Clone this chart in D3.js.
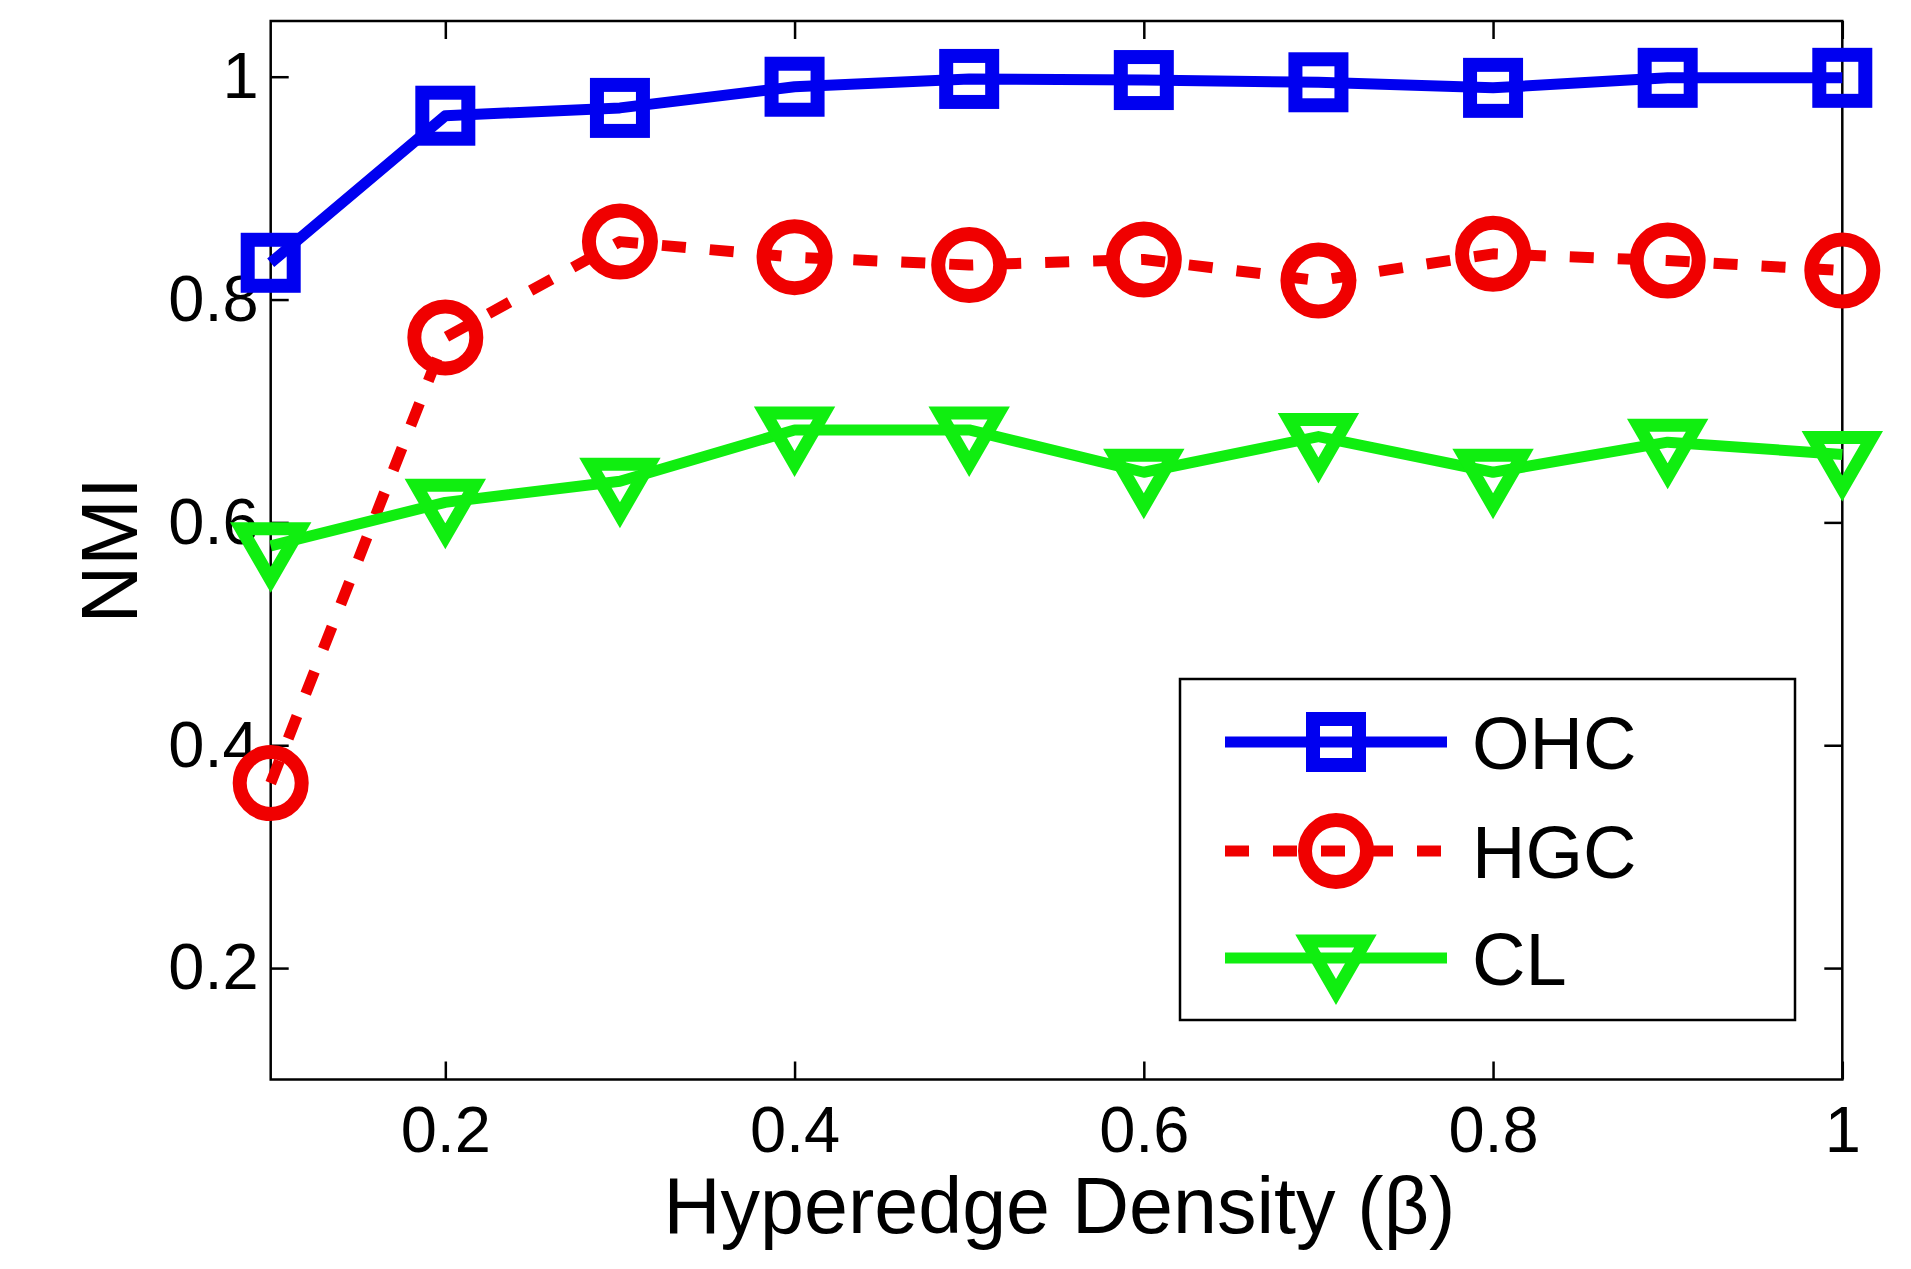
<!DOCTYPE html>
<html>
<head>
<meta charset="utf-8">
<script src="https://cdn.jsdelivr.net/npm/d3@7"></script>
<style>
  html, body { margin: 0; padding: 0; background: #fff; }
  svg { display: block; }
  text { font-family: "Liberation Sans", Arial, Helvetica, sans-serif; fill: #000; }
</style>
</head>
<body>
<svg id="chart" width="1911" height="1269"></svg>
<script>
// ---- data ----
const betas = [0.1, 0.2, 0.3, 0.4, 0.5, 0.6, 0.7, 0.8, 0.9, 1.0];
const ohc   = [0.833, 0.965, 0.972, 0.991, 0.998, 0.997, 0.995, 0.990, 0.999, 0.999];
const hgc   = [0.366, 0.766, 0.852, 0.838, 0.831, 0.836, 0.817, 0.841, 0.835, 0.826];
const cl    = [0.579, 0.618, 0.637, 0.683, 0.683, 0.645, 0.677, 0.645, 0.672, 0.661];
const seriesNames = ["OHC", "HGC", "CL"];
const xTicks = [0.2, 0.4, 0.6, 0.8, 1];
const yTicks = [0.2, 0.4, 0.6, 0.8, 1];
const xLabel = "Hyperedge Density (\u03B2)";
const yLabel = "NMI";

// ---- styles ----
const styles = [
  { values: ohc, color: "#0000f0", dash: null,    marker: "square" },
  { values: hgc, color: "#f00000", dash: "24,24", marker: "circle" },
  { values: cl,  color: "#10ee10", dash: null,    marker: "triangle" }
];

const svg = d3.select("#chart");
const L = 270.7, R = 1842.3, T = 21, B = 1079.5;
const x = d3.scaleLinear().domain([0.1, 1]).range([L, R]);
const y = d3.scaleLinear().domain([0.1, 1.05]).range([B, T]);

const tickFmt = d3.format("");
const tickLen = 18;
const tickFont = 65;

// bottom axis
const gB = svg.append("g").attr("transform", `translate(0,${B})`)
  .call(d3.axisBottom(x).tickValues(xTicks).tickFormat(tickFmt)
    .tickSizeInner(-tickLen).tickSizeOuter(0).tickPadding(26));
// left axis
const gL = svg.append("g").attr("transform", `translate(${L},0)`)
  .call(d3.axisLeft(y).tickValues(yTicks).tickFormat(tickFmt)
    .tickSizeInner(-tickLen).tickSizeOuter(0).tickPadding(12));
// top axis (ticks only)
const gT = svg.append("g").attr("transform", `translate(0,${T})`)
  .call(d3.axisTop(x).tickValues(xTicks).tickFormat("")
    .tickSizeInner(-tickLen).tickSizeOuter(0));
// right axis (ticks only)
const gR = svg.append("g").attr("transform", `translate(${R},0)`)
  .call(d3.axisRight(y).tickValues(yTicks).tickFormat("")
    .tickSizeInner(-tickLen).tickSizeOuter(0));

[gB, gL, gT, gR].forEach(g => {
  g.select(".domain").remove();
  g.selectAll(".tick line").attr("stroke", "#000").attr("stroke-width", 2.5);
  g.selectAll(".tick text").style("font-size", tickFont + "px")
    .style("font-family", '"Liberation Sans", Arial, sans-serif').attr("fill", "#000");
});

// frame
svg.append("rect").attr("x", L).attr("y", T).attr("width", R - L).attr("height", B - T)
  .attr("fill", "none").attr("stroke", "#000").attr("stroke-width", 2.5);

// axis titles
svg.append("text").attr("x", (L + R) / 2 + 3).attr("y", 1233)
  .attr("text-anchor", "middle").style("font-size", "79px").text(xLabel);
svg.append("text").attr("transform", `translate(137,${(T + B) / 2}) rotate(-90)`)
  .attr("text-anchor", "middle").style("font-size", "80px").text(yLabel);

// marker drawing
function drawMarker(g, type, cx, cy, color) {
  if (type === "square") {
    const s = 46;
    g.append("rect").attr("x", cx - s / 2).attr("y", cy - s / 2).attr("width", s).attr("height", s)
      .attr("fill", "none").attr("stroke", color).attr("stroke-width", 14);
  } else if (type === "circle") {
    g.append("circle").attr("cx", cx).attr("cy", cy).attr("r", 31)
      .attr("fill", "none").attr("stroke", color).attr("stroke-width", 14);
  } else {
    const r = 34;
    const pts = [[cx, cy + r], [cx - 0.866 * r, cy - r / 2], [cx + 0.866 * r, cy - r / 2]];
    g.append("path").attr("d", "M" + pts.map(p => p.join(",")).join("L") + "Z")
      .attr("fill", "none").attr("stroke", color).attr("stroke-width", 13)
      .attr("stroke-linejoin", "miter");
  }
}

const line = d3.line().x(d => x(d[0])).y(d => y(d[1]));

styles.forEach(st => {
  const g = svg.append("g");
  const pts = betas.map((b, i) => [b, st.values[i]]);
  const p = g.append("path").datum(pts).attr("d", line)
    .attr("fill", "none").attr("stroke", st.color).attr("stroke-width", 11)
    .attr("stroke-linejoin", "round");
  if (st.dash) p.attr("stroke-dasharray", st.dash);
  pts.forEach(d => drawMarker(g, st.marker, x(d[0]), y(d[1]), st.color));
});

// legend
const lg = svg.append("g");
lg.append("rect").attr("x", 1180).attr("y", 679).attr("width", 615).attr("height", 341)
  .attr("fill", "#fff").attr("stroke", "#000").attr("stroke-width", 2.5);
const legendY = [742, 851, 958];
styles.forEach((st, i) => {
  const ly = legendY[i];
  const seg = lg.append("line").attr("x1", 1225).attr("x2", 1447).attr("y1", ly).attr("y2", ly)
    .attr("stroke", st.color).attr("stroke-width", 11);
  if (st.dash) seg.attr("stroke-dasharray", st.dash);
  drawMarker(lg, st.marker, 1336, ly, st.color);
  lg.append("text").attr("x", 1472).attr("y", ly + 27).style("font-size", "74px").text(seriesNames[i]);
});
</script>
</body>
</html>
